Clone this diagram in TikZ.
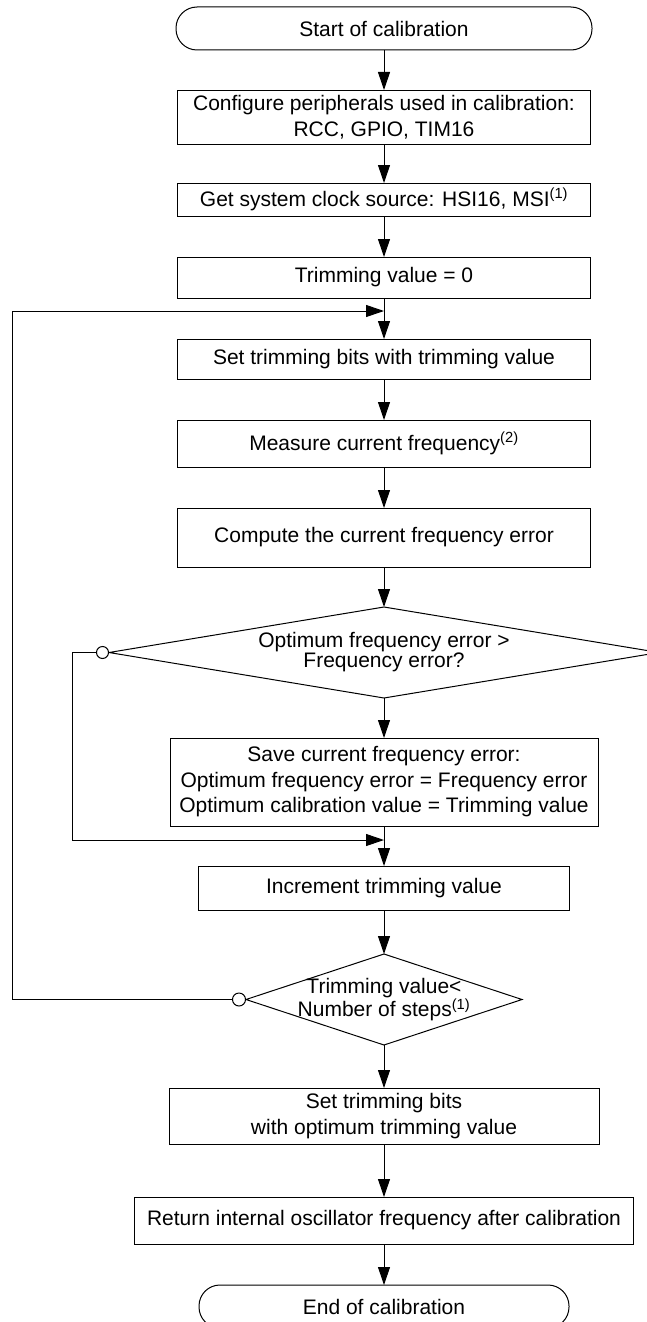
\documentclass[tikz,border=0pt]{standalone}
\usepackage{fontspec}
\setmainfont{Liberation Sans}
\usetikzlibrary{arrows.meta,positioning,shapes.geometric}

\begin{document}
\begin{tikzpicture}[
  x=1pt, y=1pt,
  node distance=41pt,
  font=\fontsize{21}{25.5}\selectfont,
  box/.style={draw, line width=1pt, align=center, inner sep=0pt, outer sep=0pt, minimum width=413pt},
  term/.style={box, rounded corners=21pt, minimum height=43pt},
  dec/.style={draw, diamond, line width=1pt, align=center, inner sep=-4pt, outer sep=0pt, font=\fontsize{21}{20}\selectfont},
  junc/.style={draw, circle, fill=white, line width=1pt, inner sep=0pt, minimum size=12pt},
  arr/.style={-{Triangle[length=18pt,width=12pt]}, line width=1pt}
]
\useasboundingbox (0,0) rectangle (646,-1322);

\node[term, minimum width=416pt] (start) at (384,-28.5) {Start of calibration};
\node[box, below=40pt of start, minimum height=54pt] (conf) {Configure peripherals used in calibration:\\RCC, GPIO, TIM16};
\node[box, below=39pt of conf, minimum height=33pt] (clk) {Get system clock source: HSI16, MSI\textsuperscript{(1)}};
\node[box, below=of clk, minimum height=41pt] (trim0) {Trimming value = 0};
\node[box, below=of trim0, minimum height=40pt] (settrim) {Set trimming bits with trimming value};
\node[box, below=of settrim, minimum height=47pt] (meas) {Measure current frequency\textsuperscript{(2)}};
\node[box, below=of meas, minimum height=59pt] (comp) {Compute the current frequency error};
\node[dec, below=40pt of comp, minimum width=550pt, minimum height=91pt, aspect=6] (dia1) {Optimum frequency error >\\Frequency error?};
\node[box, below=40pt of dia1, minimum width=428pt, minimum height=88pt] (save) {Save current frequency error:\\Optimum frequency error = Frequency error\\Optimum calibration value = Trimming value};
\node[box, below=40pt of save, minimum width=371pt, minimum height=44pt] (incr) {Increment trimming value};
\node[dec, below=44pt of incr, minimum width=276pt, minimum height=91pt, aspect=3] (dia2) {Trimming value<\\Number of steps\textsuperscript{(1)}};
\node[box, below=43pt of dia2, minimum width=430pt, minimum height=56pt] (setopt) {Set trimming bits\\with optimum trimming value};
\node[box, below=53pt of setopt, minimum width=499pt, minimum height=47pt] (ret) {Return internal oscillator frequency after calibration};
\node[term, below=of ret, minimum width=370pt] (end) {End of calibration};

\node[junc, anchor=east] (c1) at (dia1.west) {};
\node[junc, anchor=east, minimum size=13pt] (c2) at (dia2.west) {};
\coordinate (lft1) at (72,0);
\coordinate (lft2) at (12,0);
\coordinate[below=14pt of save] (j1);
\coordinate[below=13pt of trim0] (j2);

\draw[arr] (start) -- (conf);
\draw[arr] (conf) -- (clk);
\draw[arr] (clk) -- (trim0);
\draw[arr] (trim0) -- (settrim);
\draw[arr] (settrim) -- (meas);
\draw[arr] (meas) -- (comp);
\draw[arr] (comp) -- (dia1);
\draw[arr] (dia1) -- (save);
\draw[arr] (save) -- (incr);
\draw[arr] (incr) -- (dia2);
\draw[arr] (dia2) -- (setopt);
\draw[arr] (setopt) -- (ret);
\draw[arr] (ret) -- (end);

\draw[arr] (c1.west) -- (c1.west -| lft1) |- (j1);
\draw[arr] (c2.west) -- (c2.west -| lft2) |- (j2);
\end{tikzpicture}
\end{document}
